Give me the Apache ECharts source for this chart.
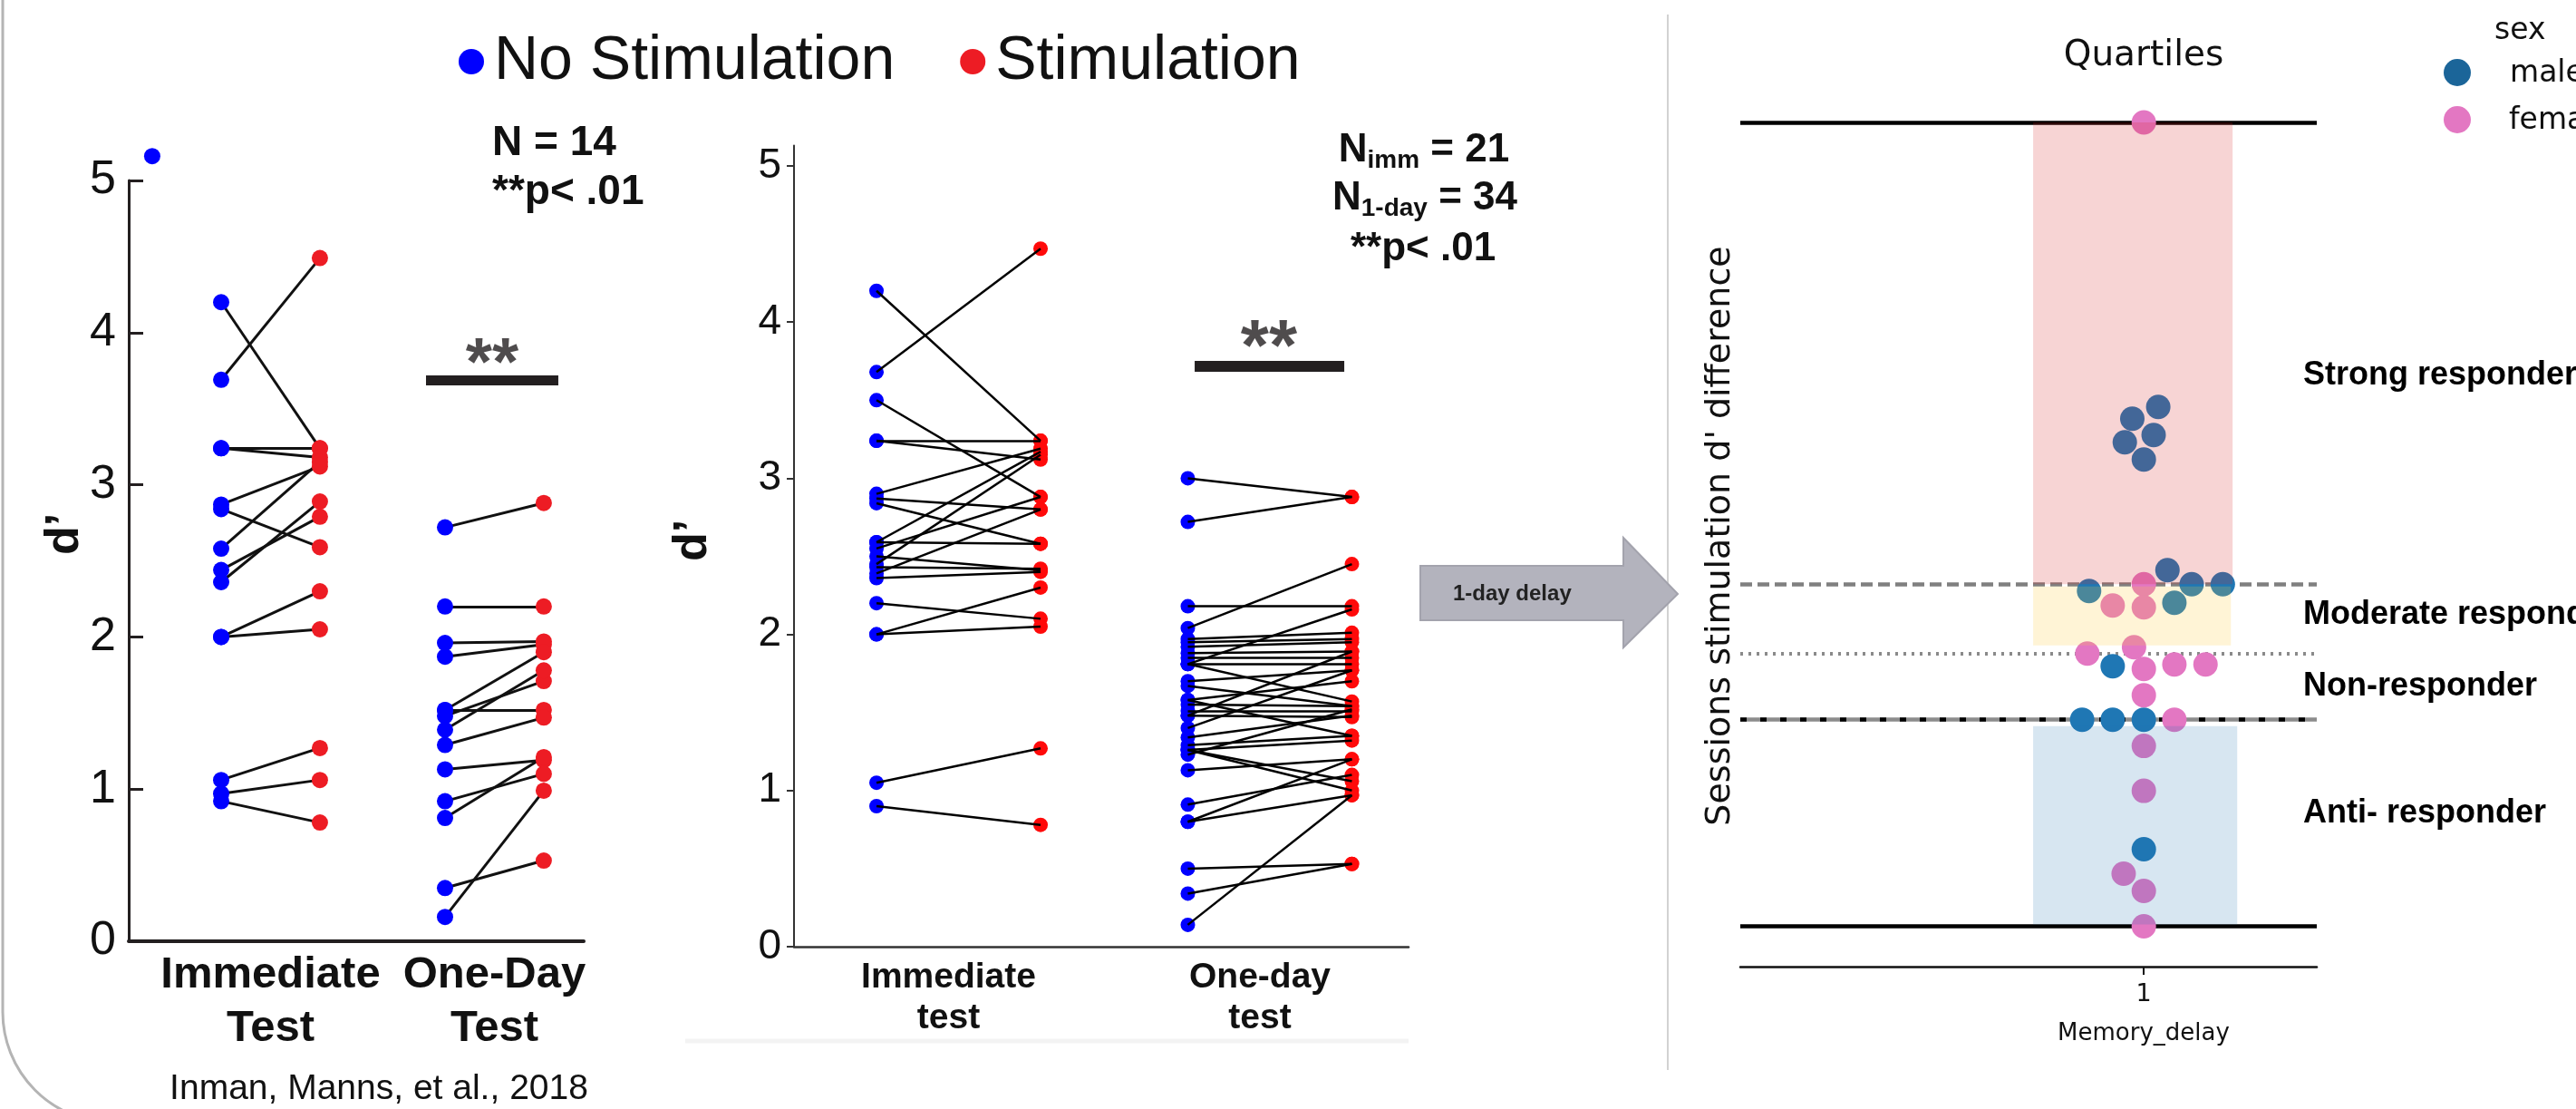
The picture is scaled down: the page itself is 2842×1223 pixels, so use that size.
<!DOCTYPE html>
<html><head><meta charset="utf-8">
<script src="https://cdn.jsdelivr.net/npm/echarts@6/dist/echarts.min.js"></script>
<style>html,body{margin:0;padding:0;background:#fff}#c{width:2842px;height:1223px}</style>
</head><body><div id="c"></div>
<script>
// ================= DATA =================
// Panel A (Inman, Manns, et al., 2018) - d' per subject, N = 14
const aLabels = ['Immediate\nTest', 'One-Day\nTest'];
const aImmNoStim = [4.20, 3.69, 3.24, 3.24, 2.87, 2.84, 2.58, 2.44, 2.36, 2.00, 2.00, 1.06, 0.97, 0.92];
const aImmStim   = [3.24, 4.49, 3.24, 3.18, 3.12, 2.59, 3.15, 2.79, 2.89, 2.30, 2.05, 1.27, 1.06, 0.78];
const aDayNoStim = [2.72, 2.20, 1.96, 1.87, 1.52, 1.52, 1.48, 1.39, 1.29, 1.13, 0.92, 0.81, 0.35, 0.16];
const aDayStim   = [2.88, 2.20, 1.97, 1.95, 1.90, 1.52, 1.71, 1.78, 1.47, 1.19, 1.10, 1.21, 0.53, 0.99];
const aExtraNoStim = [5.16];
const aSig = 3.685;

// Panel B - N_imm = 21, N_1-day = 34
const bLabels = ['Immediate\ntest', 'One-day\ntest'];
const bImmNoStim = [4.20, 3.68, 3.50, 3.24, 3.24, 2.90, 2.87, 2.84, 2.59, 2.59, 2.55, 2.50, 2.43, 2.39, 2.36, 2.20, 2.00, 2.00, 1.05, 0.90, 2.45];
const bImmStim   = [3.24, 4.47, 2.88, 3.24, 3.12, 3.19, 2.80, 2.58, 3.17, 2.58, 2.88, 2.41, 2.42, 2.80, 2.40, 2.10, 2.30, 2.05, 1.27, 0.78, 3.15];
const bDayNoStim = [3.00, 2.72, 2.18, 2.04, 1.81, 1.97, 1.95, 1.92, 1.88, 1.85, 1.81, 1.81, 1.70, 1.67, 1.58, 1.55, 1.51,
                    1.48, 1.40, 1.34, 1.29, 1.26, 1.26, 1.26, 1.23, 1.13, 0.91, 0.80, 0.80, 0.50, 0.34, 0.14, 1.58, 1.48];
const bDayStim   = [2.88, 2.88, 2.18, 2.45, 2.16, 2.01, 1.97, 1.95, 1.89, 1.85, 1.81, 1.57, 1.77, 1.54, 1.70, 1.54, 1.51,
                    1.47, 1.77, 1.48, 1.35, 1.32, 1.06, 1.00, 1.52, 1.20, 1.10, 1.20, 0.97, 0.53, 0.53, 0.97, 1.35, 1.89];
const bSig = 3.72;
const dTicks = [0, 1, 2, 3, 4, 5];

// Panel C - sessions stimulation d' difference (swarm, Memory_delay = 1)
const maleDiff   = [1.38, 1.328, 1.256, 1.224, 1.148, 0.66, 0.568, 0.598, 0.598, 0.516, 0.236, 0.0, 0.0, 0.0, -0.572];
const maleSwarm  = [0.025, -0.02, 0.017, -0.033, 0, 0.041, -0.095, 0.083, 0.137, 0.053, -0.054, -0.107, -0.054, 0, 0];
const femaleDiff = [2.636, 0.598, 0.504, 0.496, 0.292, 0.32, 0.224, 0.244, 0.244, 0.108, 0.0, -0.116, -0.314, -0.68, -0.756, -0.912];
const femaleSwarm= [0, 0, -0.054, 0, -0.098, -0.017, 0, 0.053, 0.107, 0, 0.053, 0, 0, -0.035, 0, 0];
const quartileLevels = {max: 2.636, q3: 0.598, mid: 0.292, median: 0.0, min: -0.912};
const groupLabels = ['Strong responder', 'Moderate responder', 'Non-responder', 'Anti- responder'];

// ================= LAYOUT =================
const AX = {immNo: 1.059, immSt: 1.941, dayNo: 3.059, daySt: 3.941, extra: 0.443, sig: [2.889, 4.071], star: 3.48};
const BX = {immNo: 0.973, immSt: 2.027, dayNo: 2.973, daySt: 4.027, sig: [3.017, 3.978], star: 3.494};
const CX = 1;
const BLUE = '#0000ff', RED_A = '#ed1c24', RED_B = '#ff0a0a';
const MALE = '#1f77b4', FEMALE = '#e377c2';
const SANS = 'Liberation Sans', DV = 'DejaVu Sans';

function pairLines(no, st, x0, x1) { return no.map((v, i) => ({coords: [[x0, v], [x1, st[i]]]})); }
function pts(vals, x) { return vals.map(v => [x, v]); }
function swarm(vals, offs, cx) { return vals.map((v, i) => [cx + offs[i], v]); }
function hline(v, style) { return {coords: [[0.3, v], [1.3, v]], lineStyle: style}; }
function txt(x, y, text, size, extra) {
  return Object.assign({type: 'text', silent: true, x: x, y: y,
    style: Object.assign({text: text, fontSize: size, fontFamily: SANS, fill: '#111', align: 'left', verticalAlign: 'middle'}, extra || {})});
}

const chart = echarts.init(document.getElementById('c'), null, {width: 2842, height: 1223});

const subRich = {
  a: {fontSize: 44, fontWeight: 'bold', fontFamily: SANS, lineHeight: 50, fill: '#111'},
  b: {fontSize: 28, fontWeight: 'bold', fontFamily: SANS, lineHeight: 26, verticalAlign: 'bottom', fill: '#111'}
};

const option = {
  animation: false,
  backgroundColor: '#fff',
  textStyle: {fontFamily: SANS},
  legend: [{
    data: ['No Stimulation', 'Stimulation'],
    left: 506, top: 34, padding: 0, itemGap: 72,
    itemWidth: 40, itemHeight: 28, icon: 'circle', selectedMode: false,
    textStyle: {fontSize: 68, fontFamily: SANS, color: '#111'}
  }],
  grid: [
    {left: 142, top: 199, width: 502, height: 839},
    {left: 876, top: 160.6, width: 678, height: 883.4},
    {left: 1920, top: 91.5, width: 636, height: 974.5}
  ],
  xAxis: [
    {gridIndex: 0, type: 'value', min: 0.233, max: 4.298,
     axisLine: {lineStyle: {color: '#231f20', width: 4}}, axisTick: {show: false}, splitLine: {show: false},
     axisLabel: {customValues: [1.5, 3.5], formatter: v => v < 2.5 ? aLabels[0] : aLabels[1],
       fontSize: 49, fontWeight: 'bold', color: '#111', lineHeight: 59, margin: 8}},
    {gridIndex: 1, type: 'value', min: 0.443, max: 4.391,
     axisLine: {lineStyle: {color: '#333', width: 2.5}}, axisTick: {show: false}, splitLine: {show: false},
     axisLabel: {customValues: [1.436, 3.436], formatter: v => v < 2.5 ? bLabels[0] : bLabels[1],
       fontSize: 39, fontWeight: 'bold', color: '#111', lineHeight: 45, margin: 12}},
    {gridIndex: 2, type: 'value', min: 0.3, max: 1.3,
     axisLine: {onZero: false, lineStyle: {color: '#111', width: 2.5}},
     axisTick: {customValues: [1], length: 9, lineStyle: {color: '#111', width: 2}},
     splitLine: {show: false},
     axisLabel: {customValues: [1], formatter: v => String(Math.round(v)), fontSize: 27, fontFamily: DV, color: '#111', margin: 17},
     name: 'Memory_delay', nameLocation: 'middle', nameGap: 61,
     nameTextStyle: {fontSize: 26, fontFamily: DV, color: '#111', padding: [0, 0, 0, 254]}}
  ],
  yAxis: [
    {gridIndex: 0, type: 'value', min: 0, max: 5, interval: 1,
     axisLine: {show: true, onZero: false, lineStyle: {color: '#231f20', width: 3}},
     axisTick: {show: true, inside: true, length: 16, lineStyle: {color: '#231f20', width: 3}},
     splitLine: {show: false},
     axisLabel: {fontSize: 52, color: '#111', margin: 14}},
    {gridIndex: 1, type: 'value', min: 0, max: 5.13,
     axisLine: {show: true, onZero: false, lineStyle: {color: '#333', width: 2}},
     axisTick: {show: true, customValues: dTicks, length: 8, lineStyle: {color: '#333', width: 2}},
     splitLine: {show: false},
     axisLabel: {customValues: dTicks, fontSize: 46, color: '#111', margin: 14}},
    {gridIndex: 2, type: 'value', min: -1.09, max: 2.81,
     axisLine: {show: false}, axisTick: {show: false}, axisLabel: {show: false}, splitLine: {show: false}}
  ],
  series: [
    // ---- Panel A ----
    {type: 'lines', coordinateSystem: 'cartesian2d', xAxisIndex: 0, yAxisIndex: 0, z: 2, silent: true,
     lineStyle: {color: '#111', width: 3, opacity: 1},
     data: pairLines(aImmNoStim, aImmStim, AX.immNo, AX.immSt).concat(pairLines(aDayNoStim, aDayStim, AX.dayNo, AX.daySt))},
    {type: 'scatter', name: 'No Stimulation', xAxisIndex: 0, yAxisIndex: 0, z: 3, symbolSize: 18, clip: false,
     itemStyle: {color: BLUE, opacity: 1},
     data: pts(aImmNoStim, AX.immNo).concat(pts(aDayNoStim, AX.dayNo), pts(aExtraNoStim, AX.extra))},
    {type: 'scatter', name: 'Stimulation', xAxisIndex: 0, yAxisIndex: 0, z: 3, symbolSize: 18,
     itemStyle: {color: RED_A, opacity: 1},
     data: pts(aImmStim, AX.immSt).concat(pts(aDayStim, AX.daySt))},
    {type: 'lines', coordinateSystem: 'cartesian2d', xAxisIndex: 0, yAxisIndex: 0, z: 2, silent: true,
     lineStyle: {color: '#231f20', width: 11, opacity: 1},
     data: [{coords: [[AX.sig[0], aSig], [AX.sig[1], aSig]]}]},
    {type: 'scatter', xAxisIndex: 0, yAxisIndex: 0, symbolSize: 1, itemStyle: {color: 'rgba(0,0,0,0)'}, silent: true,
     data: [[AX.star, aSig]],
     label: {show: true, formatter: '**', position: 'inside', offset: [0, -16], fontSize: 75, fontWeight: 'bold', color: '#231f20'}},
    // ---- Panel B ----
    {type: 'scatter', name: 'No Stimulation', xAxisIndex: 1, yAxisIndex: 1, z: 3, symbolSize: 16,
     itemStyle: {color: BLUE, opacity: 1},
     data: pts(bImmNoStim, BX.immNo).concat(pts(bDayNoStim, BX.dayNo))},
    {type: 'scatter', name: 'Stimulation', xAxisIndex: 1, yAxisIndex: 1, z: 3, symbolSize: 16,
     itemStyle: {color: RED_B, opacity: 1},
     data: pts(bImmStim, BX.immSt).concat(pts(bDayStim, BX.daySt))},
    {type: 'lines', coordinateSystem: 'cartesian2d', xAxisIndex: 1, yAxisIndex: 1, z: 4, silent: true,
     lineStyle: {color: '#000', width: 2.5, opacity: 1},
     data: pairLines(bImmNoStim, bImmStim, BX.immNo, BX.immSt).concat(pairLines(bDayNoStim, bDayStim, BX.dayNo, BX.daySt))},
    {type: 'lines', coordinateSystem: 'cartesian2d', xAxisIndex: 1, yAxisIndex: 1, z: 2, silent: true,
     lineStyle: {color: '#231f20', width: 12, opacity: 1},
     data: [{coords: [[BX.sig[0], bSig], [BX.sig[1], bSig]]}]},
    {type: 'scatter', xAxisIndex: 1, yAxisIndex: 1, symbolSize: 1, itemStyle: {color: 'rgba(0,0,0,0)'}, silent: true,
     data: [[BX.star, bSig]],
     label: {show: true, formatter: '**', position: 'inside', offset: [0, -17], fontSize: 80, fontWeight: 'bold', color: '#231f20'}},
    // ---- Panel C ----
    {type: 'lines', coordinateSystem: 'cartesian2d', xAxisIndex: 2, yAxisIndex: 2, z: 1, silent: true,
     lineStyle: {opacity: 1},
     data: [
       hline(quartileLevels.max, {color: '#000', width: 4.5, opacity: 1}),
       hline(quartileLevels.q3, {color: '#808080', width: 4.5, type: [13, 6], opacity: 1}),
       hline(quartileLevels.mid, {color: '#8a8a8a', width: 4, type: [3, 6], opacity: 1}),
       hline(quartileLevels.median, {color: '#8c8c8c', width: 4.5, opacity: 1}),
       hline(quartileLevels.median, {color: '#000', width: 4.5, type: [7, 15], opacity: 1}),
       hline(quartileLevels.min, {color: '#000', width: 4.5, opacity: 1})
     ]},
    {type: 'scatter', name: 'male', xAxisIndex: 2, yAxisIndex: 2, z: 3, symbolSize: 27,
     itemStyle: {color: MALE, opacity: 1}, data: swarm(maleDiff, maleSwarm, CX)},
    {type: 'scatter', name: 'female', xAxisIndex: 2, yAxisIndex: 2, z: 3, symbolSize: 27,
     itemStyle: {color: FEMALE, opacity: 1}, data: swarm(femaleDiff, femaleSwarm, CX)},
    {type: 'custom', xAxisIndex: 2, yAxisIndex: 2, z: 5, silent: true,
     encode: {x: [0, 1], y: [2, 3]},
     data: [
       [0.808, 1.154, quartileLevels.q3, quartileLevels.max, 0],
       [0.808, 1.151, 0.328, 0.588, 1],
       [0.808, 1.162, -0.904, -0.028, 2]
     ],
     renderItem: function (params, api) {
       const fills = ['rgba(214,39,40,0.2)', 'rgba(255,200,50,0.2)', 'rgba(31,119,180,0.18)'];
       const p0 = api.coord([api.value(0), api.value(3)]);
       const p1 = api.coord([api.value(1), api.value(2)]);
       return {type: 'rect', shape: {x: p0[0], y: p0[1], width: p1[0] - p0[0], height: p1[1] - p0[1]},
               style: {fill: fills[api.value(4)]}};
     }}
  ],
  graphic: [
    // rounded frame around panel A
    {type: 'rect', z: -10, silent: true, shape: {x: 3, y: -400, width: 4000, height: 1638, r: 122},
     style: {fill: 'none', stroke: '#b4b4b4', lineWidth: 3}},
    // divider
    {type: 'line', silent: true, shape: {x1: 1840, y1: 16, x2: 1840, y2: 1180}, style: {stroke: '#d2d2d2', lineWidth: 2}},
    // faint strip below panel B
    {type: 'line', silent: true, shape: {x1: 756, y1: 1148, x2: 1554, y2: 1148}, style: {stroke: '#f3f3f3', lineWidth: 5}},
    // arrow
    {type: 'polygon', silent: true,
     shape: {points: [[1567, 624], [1791, 624], [1791, 593], [1851, 655], [1791, 714], [1791, 684], [1567, 684]]},
     style: {fill: '#b3b3bd', stroke: '#a3a3ad', lineWidth: 2}},
    txt(1603, 655, '1-day delay', 24, {fontWeight: 'bold', fill: '#222'}),
    // y axis titles
    Object.assign(txt(72, 589, 'd\u2019', 52, {fontWeight: 'bold', align: 'center'}), {rotation: Math.PI / 2}),
    Object.assign(txt(765, 596, 'd\u2019', 52, {fontWeight: 'bold', align: 'center'}), {rotation: Math.PI / 2}),
    Object.assign(txt(1898, 591, "Sessions stimulation d' difference", 38, {fontFamily: DV, align: 'center'}), {rotation: Math.PI / 2}),
    // panel A annotations
    txt(543, 158, 'N = 14', 46, {fontWeight: 'bold'}),
    txt(543, 212, '**p< .01', 46, {fontWeight: 'bold'}),
    txt(418, 1201, 'Inman, Manns, et al., 2018', 39, {align: 'center'}),
    // panel B annotations
    {type: 'text', silent: true, x: 1571, y: 166,
     style: {text: '{a|N}{b|imm}{a| = 21}', align: 'center', verticalAlign: 'middle', fill: '#111', rich: subRich}},
    {type: 'text', silent: true, x: 1572, y: 219,
     style: {text: '{a|N}{b|1-day}{a| = 34}', align: 'center', verticalAlign: 'middle', fill: '#111', rich: subRich}},
    txt(1570, 275, '**p< .01', 44, {fontWeight: 'bold', align: 'center'}),
    // panel C title, group labels, legend
    txt(2365, 62, 'Quartiles', 39, {fontFamily: DV, align: 'center'}),
    txt(2541, 414, groupLabels[0], 36, {fontWeight: 'bold', fill: '#000'}),
    txt(2541, 678, groupLabels[1], 36, {fontWeight: 'bold', fill: '#000'}),
    txt(2541, 757, groupLabels[2], 36, {fontWeight: 'bold', fill: '#000'}),
    txt(2541, 897, groupLabels[3], 36, {fontWeight: 'bold', fill: '#000'}),
    txt(2752, 34, 'sex', 33, {fontFamily: DV}),
    {type: 'circle', silent: true, shape: {cx: 2711, cy: 80, r: 15}, style: {fill: '#1b6599'}},
    txt(2769, 81, 'male', 33, {fontFamily: DV}),
    {type: 'circle', silent: true, shape: {cx: 2711, cy: 132, r: 15}, style: {fill: FEMALE}},
    txt(2768, 133, 'female', 33, {fontFamily: DV})
  ]
};
chart.setOption(option);
</script>
</body></html>
